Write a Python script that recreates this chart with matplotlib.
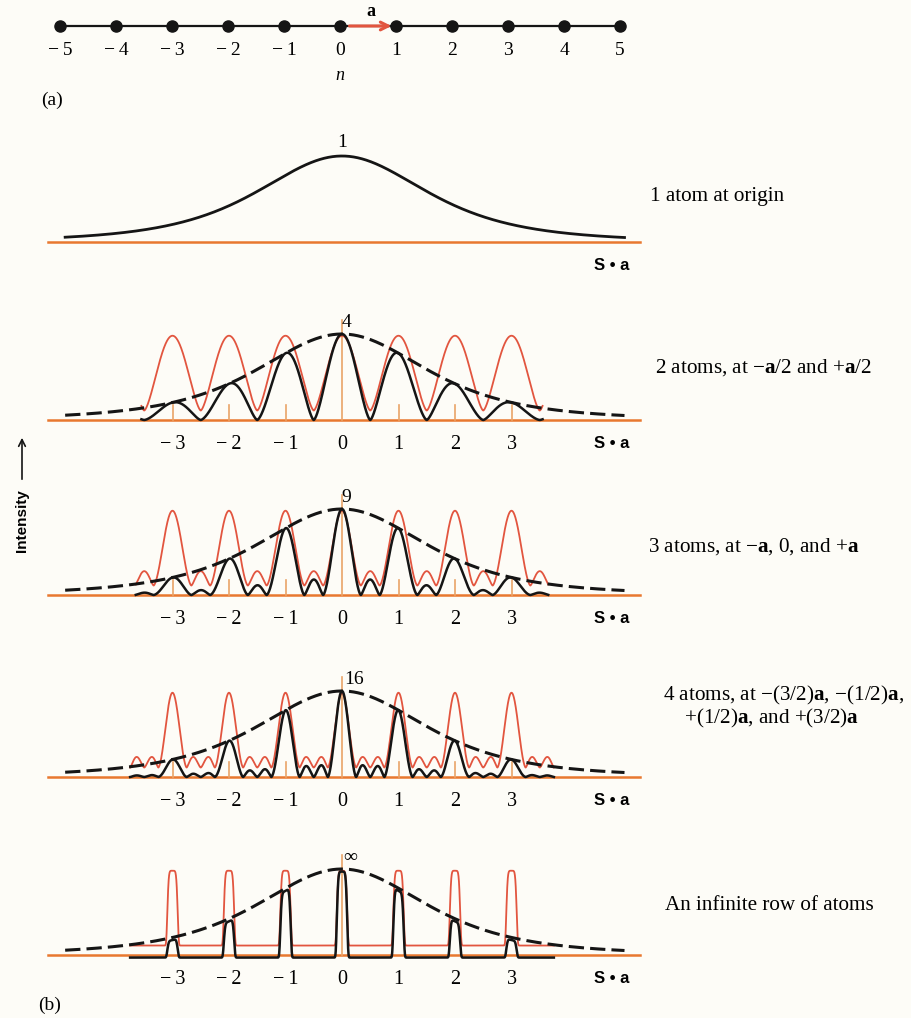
import numpy as np
import matplotlib.pyplot as plt
from matplotlib.patches import FancyArrowPatch

plt.rcParams['font.family'] = ['Liberation Serif', 'DejaVu Serif']
plt.rcParams['mathtext.fontset'] = 'custom'
plt.rcParams['mathtext.rm'] = 'Liberation Serif'
plt.rcParams['mathtext.bf'] = 'Liberation Serif:bold'
plt.rcParams['mathtext.it'] = 'Liberation Serif:italic'

# lattice sites of the 1-D row
lattice_n = [-5, -4, -3, -2, -1, 0, 1, 2, 3, 4, 5]
lattice_labels = ['\u2212\u20095', '\u2212\u20094', '\u2212\u20093', '\u2212\u20092', '\u2212\u20091',
                  '0', '1', '2', '3', '4', '5']

# diffraction orders shown under each pattern
orders = [-3, -2, -1, 0, 1, 2, 3]
order_labels = ['\u2212\u20093', '\u2212\u20092', '\u2212\u20091', '0', '1', '2', '3']

# one row per pattern
atom_counts = [1, 2, 3, 4, np.inf]
peak_labels = ['1', '4', '9', '16', '\u221e']
curve_span = [None, 3.55, 3.65, 3.75, 3.75]
descriptions = [
    '1 atom at origin',
    '2 atoms, at \u2212$\\mathbf{a}$/2 and +$\\mathbf{a}$/2',
    '3 atoms, at \u2212$\\mathbf{a}$, 0, and +$\\mathbf{a}$',
    '4 atoms, at \u2212(3/2)$\\mathbf{a}$, \u2212(1/2)$\\mathbf{a}$,\n    +(1/2)$\\mathbf{a}$, and +(3/2)$\\mathbf{a}$',
    'An infinite row of atoms',
]

W, H = 912, 1018
BASES = [242, 420, 595, 777, 955]
DESC_POS = [(650, 197), (655, 368), (648, 547), (663, 707), (665, 905)]
PEAK_LABEL_X = [0.0, 0.08, 0.08, 0.22, 0.15]

BLACK = '#151515'
RED = '#e2553f'
ORANGE = '#e8782f'
TICK_ORANGE = '#e9a468'
DRAW_EXP = 0.75   # hand-drawn look: fuller peaks, visible side lobes

fig = plt.figure(figsize=(W / 100, H / 100), dpi=100)
fig.patch.set_facecolor('#fdfcf7')


def make_axes(base_px, unit_px=56.5, zero_px=342, yunit_px=86, top=1.4, bottom=0.45,
              left_px=40, right_px=660):
    top_px = base_px - top * yunit_px
    bot_px = base_px + bottom * yunit_px
    ax = fig.add_axes([left_px / W, 1 - bot_px / H, (right_px - left_px) / W, (bot_px - top_px) / H])
    ax.set_xlim((left_px - zero_px) / unit_px, (right_px - zero_px) / unit_px)
    ax.set_ylim(-bottom, top)
    ax.axis('off')
    return ax


def envelope(x):
    # atomic scattering falls off with S.a
    return 1.0 / (1.0 + 0.135 * x ** 2) ** 2


def interference(x, n):
    if np.isinf(n):
        d = x - np.round(x)
        return np.exp(-(d / 0.095) ** 6)
    s = np.sin(np.pi * x)
    num = np.sin(n * np.pi * x)
    out = np.ones_like(x)
    ok = np.abs(s) > 1e-9
    out[ok] = (num[ok] / (n * s[ok])) ** 2
    return out ** DRAW_EXP


# (a) the row of atoms
ax = make_axes(26, unit_px=56, zero_px=340, yunit_px=56, top=0.5, bottom=1.4)
ax.plot(lattice_n, np.zeros(len(lattice_n)), color=BLACK, lw=1.6, marker='o', ms=8)
for n, lab in zip(lattice_n, lattice_labels):
    ax.text(n, -0.43, lab, ha='center', va='center', fontsize=14)
ax.text(0, -0.88, 'n', ha='center', va='center', fontsize=13, style='italic')
ax.add_patch(FancyArrowPatch((0.12, 0), (0.97, 0), arrowstyle='->', mutation_scale=14,
                             color=RED, lw=2.2, zorder=4))
ax.text(0.55, 0.25, 'a', ha='center', va='center', fontsize=13, weight='bold')
fig.text(52 / W, 1 - 100 / H, '(a)', ha='center', va='center', fontsize=14)

# (b) diffraction patterns
for i, (n_at, plab, span, desc) in enumerate(zip(atom_counts, peak_labels, curve_span, descriptions)):
    ax = make_axes(BASES[i])
    ax.plot([-5.2, 5.27], [0, 0], color=ORANGE, lw=1.8, zorder=1)
    xe = np.linspace(-4.9, 5.0, 800)
    if n_at == 1:
        ax.plot(xe, envelope(xe), color=BLACK, lw=2.0, zorder=3)
        ax.text(0, 1.06, plab, ha='center', va='bottom', fontsize=14)
    else:
        if not np.isinf(n_at):
            for o in orders:
                if o != 0:
                    ax.plot([o, o], [0, 0.18], color=TICK_ORANGE, lw=1.2, zorder=1)
        ax.plot([0, 0], [0, 1.16], color=TICK_ORANGE, lw=1.2, zorder=1)
        x = np.linspace(-span, span, 3000)
        inten = interference(x, n_at)
        ax.plot(x, 0.11 + 0.87 * inten, color=RED, lw=1.3, zorder=2)
        black = envelope(x) * inten
        if np.isinf(n_at):
            black = black - 0.03
        ax.plot(x, black, color=BLACK, lw=1.8, zorder=3)
        ax.plot(xe, envelope(xe), color=BLACK, lw=2.2, dashes=(5, 2), zorder=4)
        for o, lab in zip(orders, order_labels):
            ax.text(o, -0.29, lab, ha='center', va='center', fontsize=14.5)
        ax.text(PEAK_LABEL_X[i], 1.03, plab, ha='center', va='bottom', fontsize=14)
    ax.text(4.78, -0.27, 'S \u2022 a', ha='center', va='center', fontsize=12,
            family='Liberation Sans', weight='bold')
    dx, dy = DESC_POS[i]
    fig.text(dx / W, 1 - dy / H, desc, ha='left', va='center', fontsize=15.2, linespacing=0.95)

fig.text(50 / W, 1 - 1005 / H, '(b)', ha='center', va='center', fontsize=14)

# vertical intensity label with its arrow
fig.text(22 / W, 1 - 521 / H, 'Intensity', rotation=90, ha='center', va='center',
         fontsize=11, family='Liberation Sans', weight='bold')
fig.add_artist(FancyArrowPatch((22 / W, 1 - 482 / H), (22 / W, 1 - 435 / H),
                               transform=fig.transFigure, arrowstyle='->',
                               mutation_scale=12, lw=1.2, color=BLACK))

fig.savefig('out.png', dpi=100, facecolor=fig.get_facecolor())
